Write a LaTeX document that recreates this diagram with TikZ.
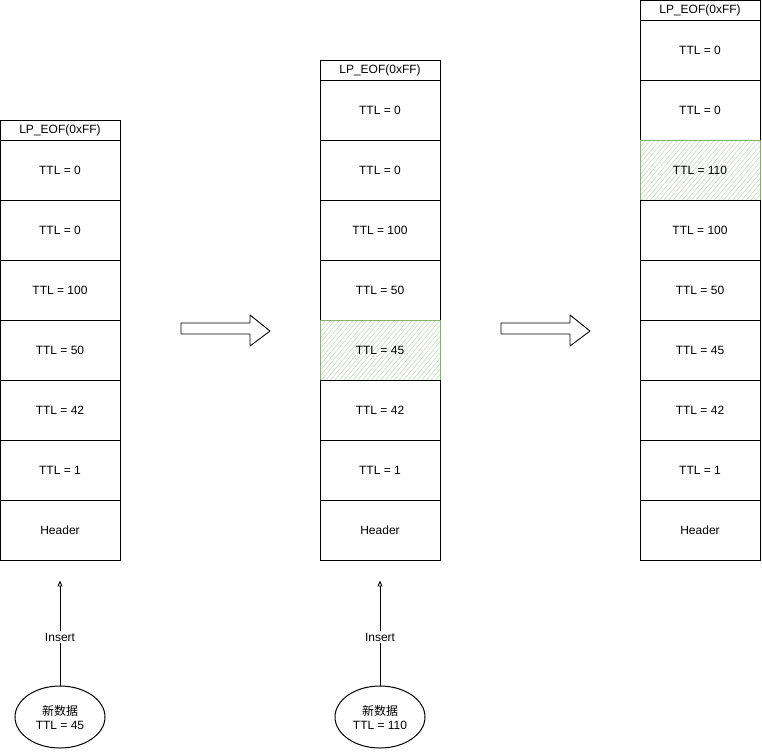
\documentclass[tikz,border=0pt]{standalone}
\usepackage{fontspec}
\setmainfont{Liberation Sans}
\newfontfamily\cjk{Noto Sans CJK SC}
\usetikzlibrary{shapes.geometric,patterns.meta,arrows.meta,calc}
\definecolor{gstroke}{HTML}{82B366}
\definecolor{ghatch}{HTML}{B9D8B0}
\tikzset{
  cell/.style={draw, line width=0.9pt, minimum width=120pt, minimum height=60pt, inner sep=0pt, font=\fontsize{12}{14}\selectfont},
  eof/.style={cell, minimum height=20pt},
  plain/.style={},
  hot/.style={draw=gstroke, pattern={Lines[angle=50,distance=3.5pt,line width=0.5pt]}, pattern color=ghatch},
  blockarrow/.style={draw, line width=0.9pt, fill=white, line join=round},
  blob/.style={ellipse, draw, line width=1pt, minimum width=90pt, minimum height=62pt, align=center, inner sep=0pt, font=\fontsize{12}{14}\selectfont},
  insertarrow/.style={draw, line width=0.9pt, -{Triangle[open, length=6pt, width=5pt]}},
  lbl/.style={fill=white, inner sep=1.5pt, font=\fontsize{12}{14}\selectfont}
}
\begin{document}
\begin{tikzpicture}[x=1pt, y=-1pt]
\useasboundingbox (0,0) rectangle (762,752);
% column 1
\node[eof] (a0) at (60,130) {LP\_EOF(0xFF)};
\foreach \t/\s [count=\i] in {TTL = 0/plain, TTL = 0/plain, TTL = 100/plain, TTL = 50/plain, TTL = 42/plain, TTL = 1/plain, Header/plain}
  \node[cell, \s] (a\i) at (60,110+60*\i) {\t};
% column 2
\node[eof] (b0) at (380,70) {LP\_EOF(0xFF)};
\foreach \t/\s [count=\i] in {TTL = 0/plain, TTL = 0/plain, TTL = 100/plain, TTL = 50/plain, TTL = 45/hot, TTL = 42/plain, TTL = 1/plain, Header/plain}
  \node[cell, \s] (b\i) at (380,50+60*\i) {\t};
% column 3
\node[eof] (c0) at (700,10) {LP\_EOF(0xFF)};
\foreach \t/\s [count=\i] in {TTL = 0/plain, TTL = 0/plain, TTL = 110/hot, TTL = 100/plain, TTL = 50/plain, TTL = 45/plain, TTL = 42/plain, TTL = 1/plain, Header/plain}
  \node[cell, \s] (c\i) at (700,-10+60*\i) {\t};
% block arrows
\draw[blockarrow] (181,323) -- (250,323) -- (250,315) -- (270,331) -- (250,346) -- (250,334) -- (181,334) -- cycle;
\draw[blockarrow] (501,323) -- (570,323) -- (570,315) -- (590,331) -- (570,346) -- (570,334) -- (501,334) -- cycle;
% new data
\node[blob] (e1) at (60,717) {{\cjk 新数据}\\TTL = 45};
\node[blob] (e2) at (380,717) {{\cjk 新数据}\\TTL = 110};
\coordinate (t1) at ($(a7.south)+(0,20)$);
\coordinate (t2) at ($(b8.south)+(0,20)$);
\draw[insertarrow] (e1) -- (t1) node[lbl, pos=0.46] {Insert};
\draw[insertarrow] (e2) -- (t2) node[lbl, pos=0.46] {Insert};
\end{tikzpicture}
\end{document}
